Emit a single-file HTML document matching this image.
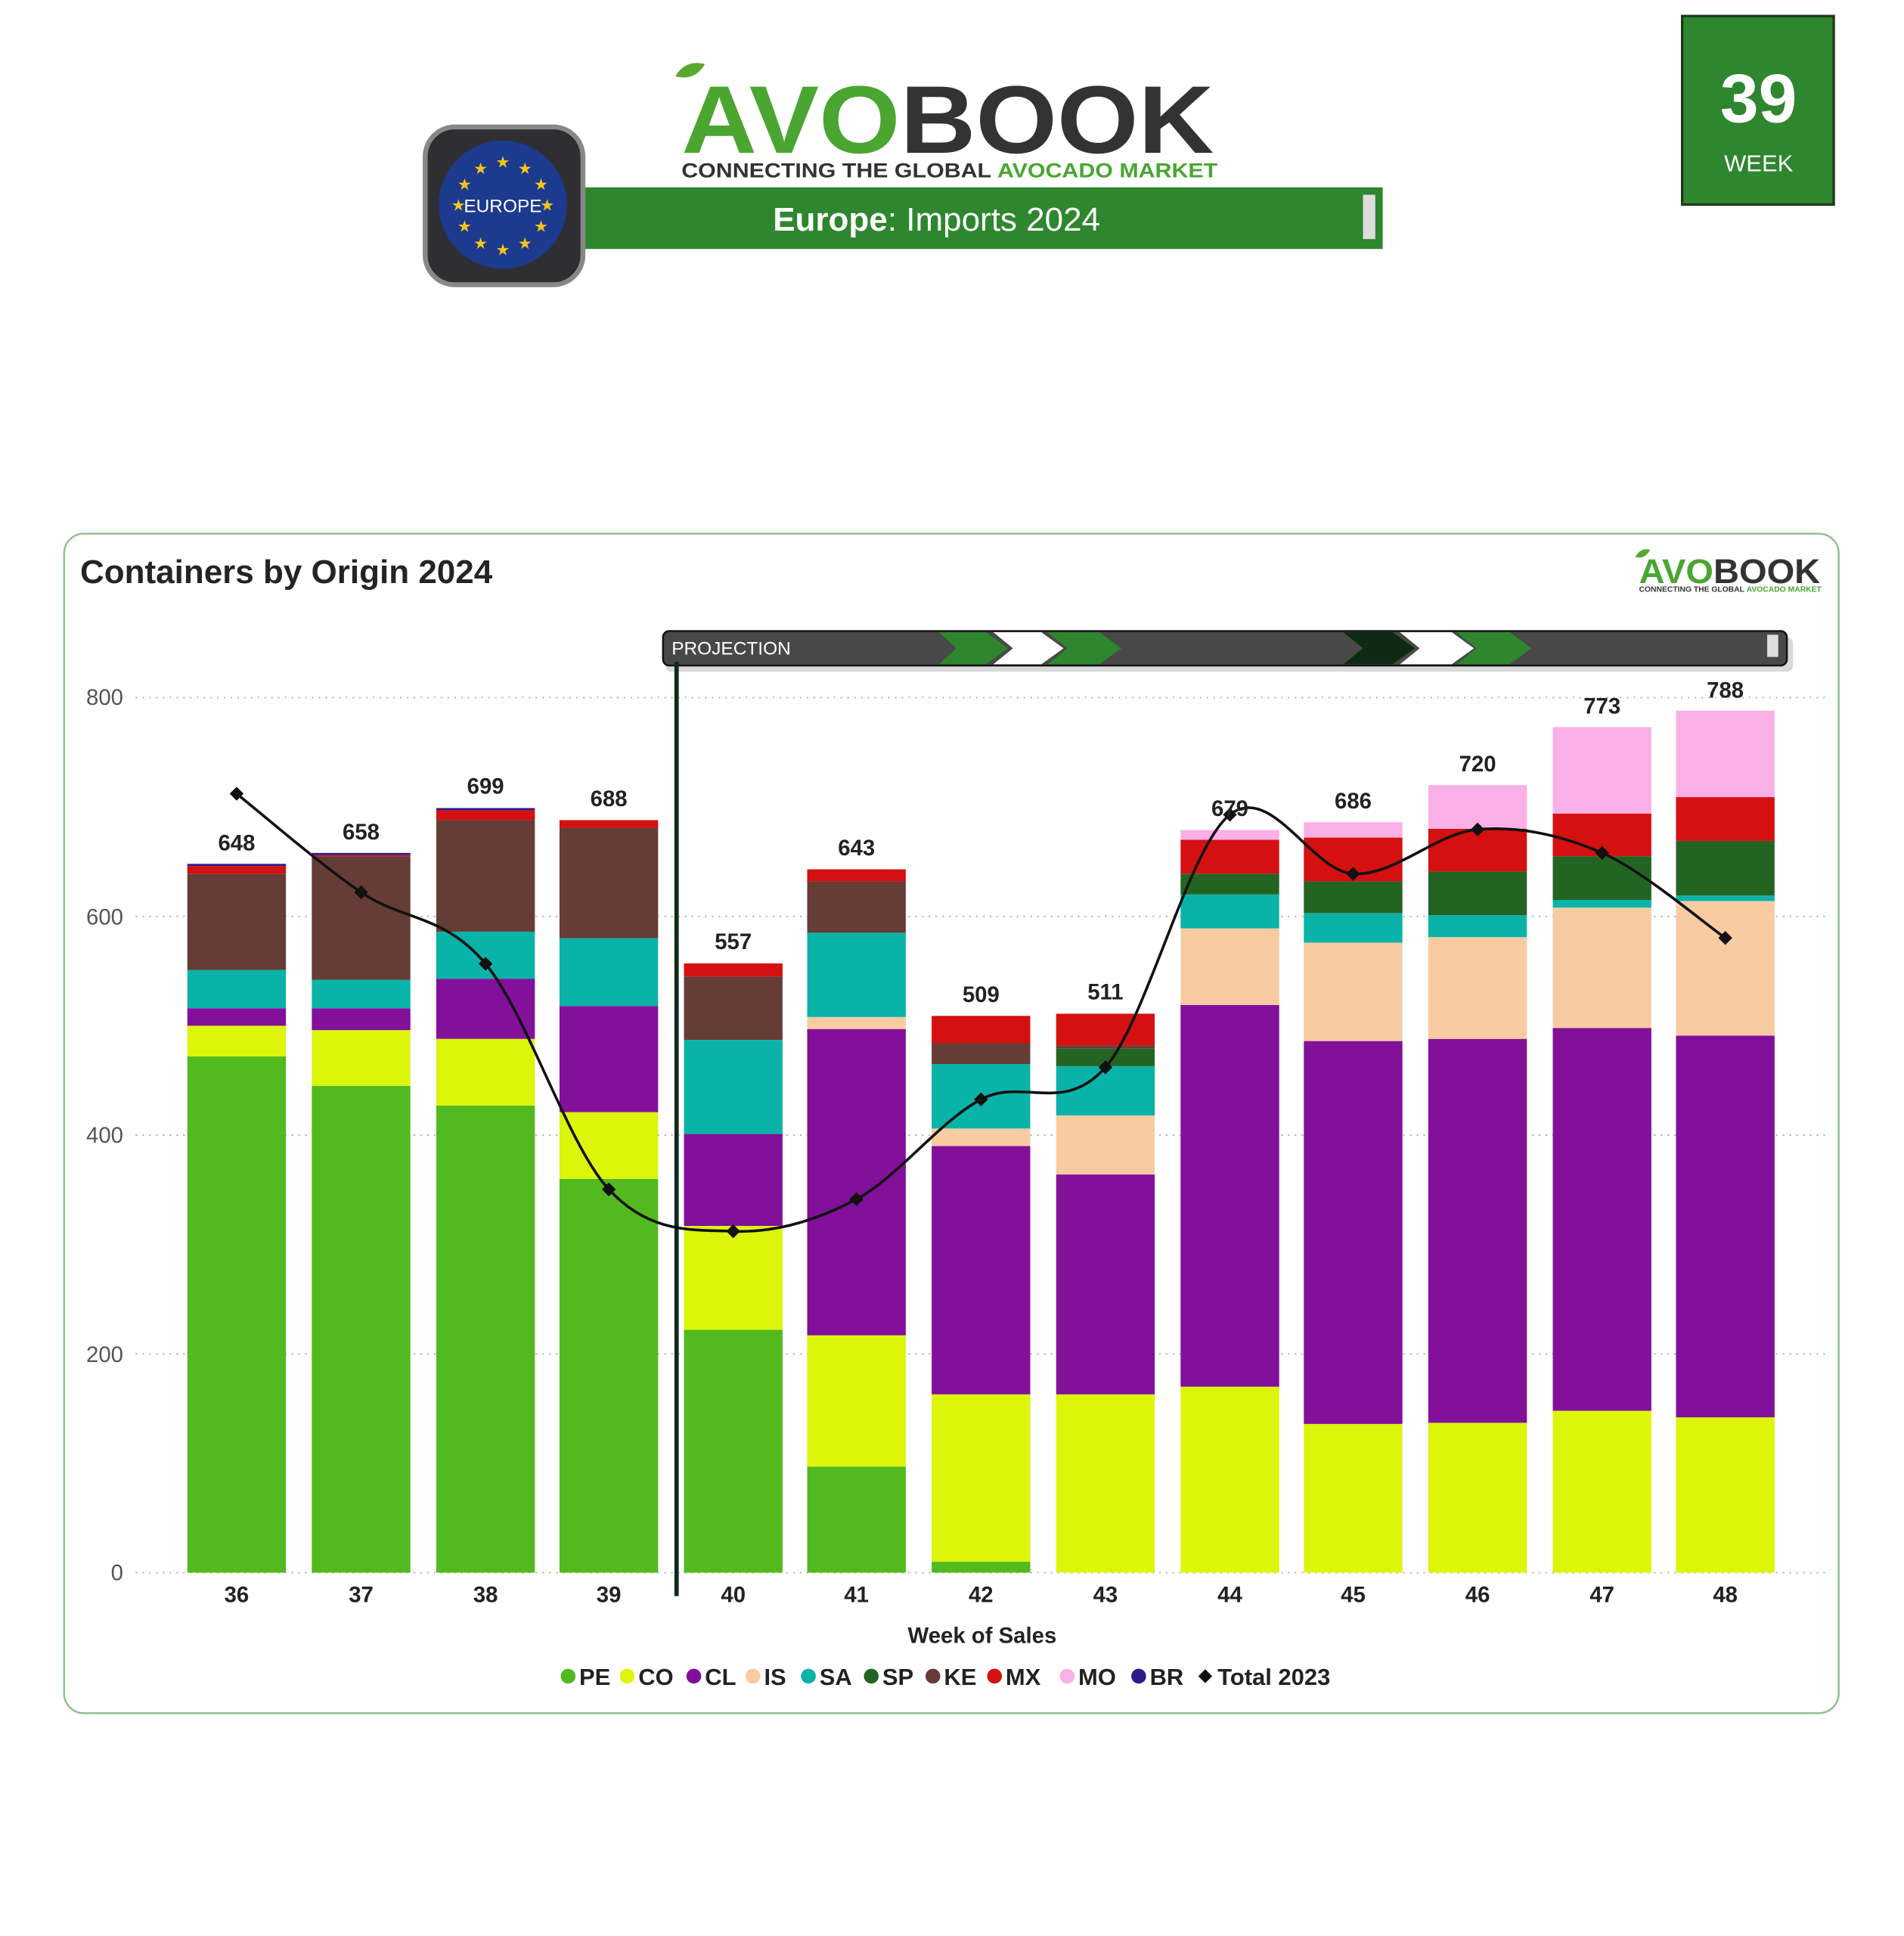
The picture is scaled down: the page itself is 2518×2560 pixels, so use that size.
<!DOCTYPE html><html><head><meta charset="utf-8"><style>
html,body{margin:0;padding:0;background:#fff}
svg{display:block}
text{font-family:"Liberation Sans","DejaVu Sans",sans-serif}
</style></head><body>
<svg id="s" width="2518" height="2560" viewBox="0 0 1545 1570.8" xmlns="http://www.w3.org/2000/svg">
<rect x="0" y="0" width="1545" height="1571" fill="#fff"/>
<path d="M548 62 q8 -14 24 -10 q-8 14 -24 10z" fill="#5aa82e"/>
<text x="553" y="124" font-size="78" font-weight="bold" fill="#4aa630" textLength="432" lengthAdjust="spacingAndGlyphs">AVO<tspan fill="#333">BOOK</tspan></text>
<text x="553" y="144" font-size="16.5" font-weight="bold" fill="#333" textLength="435" lengthAdjust="spacingAndGlyphs">CONNECTING THE GLOBAL <tspan fill="#4aa630">AVOCADO MARKET</tspan></text>
<rect x="470" y="152" width="652" height="50" fill="#2e862e"/>
<rect x="1106" y="158" width="10" height="36" fill="#ddd"/>
<text x="760" y="187" font-size="27" fill="#fff" text-anchor="middle"><tspan font-weight="bold">Europe</tspan>: Imports 2024</text>
<rect x="345" y="103" width="128" height="128" rx="24" fill="#2f2f33" stroke="#888" stroke-width="4"/>
<circle cx="408" cy="166" r="52" fill="#1c3a8e"/>
<g fill="#f5c518" font-size="13" text-anchor="middle">
<text x="408" y="136">★</text><text x="426" y="141">★</text><text x="439" y="154">★</text><text x="439" y="188">★</text><text x="426" y="202">★</text><text x="408" y="207">★</text><text x="390" y="202">★</text><text x="377" y="188">★</text><text x="377" y="154">★</text><text x="390" y="141">★</text><text x="372" y="171">★</text><text x="444" y="171">★</text>
</g>
<text x="408" y="172" font-size="15" fill="#fff" text-anchor="middle">EUROPE</text>
<rect x="1365" y="13" width="123" height="153" fill="#2e862e" stroke="#1a3a1a" stroke-width="2"/>
<text x="1427" y="99" font-size="56" font-weight="bold" fill="#fff" text-anchor="middle">39</text>
<text x="1427" y="139" font-size="19" fill="#fff" text-anchor="middle">WEEK</text>
<rect x="52" y="433" width="1440" height="957" rx="16" fill="#fff" stroke="#8fbf8f" stroke-width="1.5"/>
<text x="65" y="473" font-size="27" font-weight="bold" fill="#252423">Containers by Origin 2024</text>
<path d="M1327 452 q4 -8 12 -6 q-4 8 -12 6z" fill="#5aa82e"/>
<text x="1330" y="473" font-size="28" font-weight="bold" fill="#4aa630" textLength="147" lengthAdjust="spacingAndGlyphs">AVO<tspan fill="#333">BOOK</tspan></text>
<text x="1330" y="480" font-size="6" font-weight="bold" fill="#333" textLength="148" lengthAdjust="spacingAndGlyphs">CONNECTING THE GLOBAL <tspan fill="#4aa630">AVOCADO MARKET</tspan></text>
<g stroke="#bbb" stroke-width="1.2" stroke-dasharray="1.5 4">
<line x1="110" y1="566" x2="1482" y2="566"/><line x1="110" y1="743.5" x2="1482" y2="743.5"/><line x1="110" y1="921" x2="1482" y2="921"/><line x1="110" y1="1098.5" x2="1482" y2="1098.5"/><line x1="110" y1="1276" x2="1482" y2="1276"/>
</g>
<g font-size="18" fill="#555" text-anchor="end">
<text x="100" y="572">800</text><text x="100" y="750">600</text><text x="100" y="927">400</text><text x="100" y="1105">200</text><text x="100" y="1282">0</text>
</g>
<g id="bars"></g>
<rect x="540" y="517" width="915" height="28" rx="5" fill="#000" opacity="0.15"/>
<rect x="538" y="512" width="912" height="28" rx="5" fill="#484848" stroke="#111" stroke-width="1.5"/>
<polygon points="762,513 800,513 818,526 800,539 762,539 776,526" fill="#2e862e"/>
<polygon points="806,513 845,513 863,526 845,539 806,539 822,526" fill="#fff"/>
<polygon points="850,513 892,513 910,526 892,539 850,539 866,526" fill="#2e862e"/>
<polygon points="1090,513 1130,513 1148,526 1130,539 1090,539 1106,526" fill="#0e2a12"/>
<polygon points="1136,513 1178,513 1196,526 1178,539 1136,539 1152,526" fill="#fff"/>
<polygon points="1182,513 1225,513 1243,526 1225,539 1182,539 1198,526" fill="#2e862e"/>
<rect x="1434" y="515" width="9" height="18" fill="#ddd"/>
<text x="545" y="531" font-size="15" fill="#fff">PROJECTION</text>
<line x1="549" y1="537" x2="549" y2="1295" stroke="#0f2a18" stroke-width="3.5"/>
<path id="line" fill="none" stroke="#111" stroke-width="2.2"/>
<g id="dots" fill="#111"></g>
<g font-size="18" font-weight="bold" fill="#222" text-anchor="middle">
<text x="192" y="690">648</text><text x="293" y="681">658</text><text x="394" y="644">699</text><text x="494" y="654">688</text><text x="595" y="770">557</text><text x="695" y="694">643</text><text x="796" y="813">509</text><text x="897" y="811">511</text><text x="998" y="662">679</text><text x="1098" y="656">686</text><text x="1199" y="626">720</text><text x="1300" y="579">773</text><text x="1400" y="566">788</text>
</g>
<g font-size="18" font-weight="bold" fill="#222" text-anchor="middle">
<text x="192" y="1300">36</text><text x="293" y="1300">37</text><text x="394" y="1300">38</text><text x="494" y="1300">39</text><text x="595" y="1300">40</text><text x="695" y="1300">41</text><text x="796" y="1300">42</text><text x="897" y="1300">43</text><text x="998" y="1300">44</text><text x="1098" y="1300">45</text><text x="1199" y="1300">46</text><text x="1300" y="1300">47</text><text x="1400" y="1300">48</text>
<text x="797" y="1333">Week of Sales</text>
</g>
<g font-size="19" font-weight="bold" fill="#222">
<circle cx="461" cy="1360" r="6" fill="#52b91e"/><text x="470" y="1367">PE</text>
<circle cx="509" cy="1360" r="6" fill="#dcf50a"/><text x="518" y="1367">CO</text>
<circle cx="563" cy="1360" r="6" fill="#82109a"/><text x="572" y="1367">CL</text>
<circle cx="611" cy="1360" r="6" fill="#f8cba2"/><text x="620" y="1367">IS</text>
<circle cx="656" cy="1360" r="6" fill="#0ab3a8"/><text x="665" y="1367">SA</text>
<circle cx="707" cy="1360" r="6" fill="#236423"/><text x="716" y="1367">SP</text>
<circle cx="757" cy="1360" r="6" fill="#663c36"/><text x="766" y="1367">KE</text>
<circle cx="807" cy="1360" r="6" fill="#d41010"/><text x="816" y="1367">MX</text>
<circle cx="866" cy="1360" r="6" fill="#f9b0e6"/><text x="875" y="1367">MO</text>
<circle cx="924" cy="1360" r="6" fill="#2a1a8a"/><text x="933" y="1367">BR</text>
<rect x="974" y="1356" width="8" height="8" fill="#111" transform="rotate(45 978 1360)"/><text x="988" y="1367">Total 2023</text>
</g>
</svg>
<script>
var C={PE:"#52b91e",CO:"#dcf50a",CL:"#82109a",IS:"#f8cba2",SA:"#0ab3a8",SP:"#236423",KE:"#663c36",MX:"#d41010",MO:"#f9b0e6",BR:"#2a1a8a"};
var xs=[192,293,394,494,595,695,796,897,998,1098,1199,1300,1400];
var D=[
[["PE",472],["CO",500],["CL",516],["SA",551],["KE",639],["MX",646],["BR",648]],
[["PE",445],["CO",496],["CL",516],["SA",542],["KE",655],["MX",656],["BR",658]],
[["PE",427],["CO",488],["CL",543],["SA",586],["KE",688],["MX",697],["BR",699]],
[["PE",360],["CO",421],["CL",518],["SA",580],["KE",681],["MX",688]],
[["PE",222],["CO",317],["CL",401],["SA",487],["KE",545],["MX",557]],
[["PE",97],["CO",217],["CL",497],["IS",508],["SA",585],["KE",632],["MX",643]],
[["PE",10],["CO",163],["CL",390],["IS",406],["SA",465],["KE",484],["MX",509]],
[["CO",163],["CL",364],["IS",418],["SA",463],["SP",479],["KE",482],["MX",511]],
[["CO",170],["CL",519],["IS",589],["SA",620],["SP",639],["MX",670],["MO",679]],
[["CO",136],["CL",486],["IS",576],["SA",603],["SP",632],["MX",672],["MO",686]],
[["CO",137],["CL",488],["IS",581],["SA",601],["SP",641],["MX",680],["MO",720]],
[["CO",148],["CL",498],["IS",608],["SA",615],["SP",655],["MX",694],["MO",773]],
[["CO",142],["CL",491],["IS",614],["SA",619],["SP",669],["MX",709],["MO",788]]];
var ns="http://www.w3.org/2000/svg",g=document.getElementById("bars");
function Y(v){return 1276-v*0.8875}
D.forEach(function(b,i){var prev=0;b.forEach(function(s){var r=document.createElementNS(ns,"rect");
r.setAttribute("x",xs[i]-40);r.setAttribute("width",80);r.setAttribute("y",Y(s[1]));r.setAttribute("height",Y(prev)-Y(s[1]));r.setAttribute("fill",C[s[0]]);g.appendChild(r);prev=s[1];});});
var P=[[192,644],[293,724],[394,782],[494,965],[595,999],[695,973],[796,892],[897,866],[998,661],[1098,709],[1199,673],[1300,692],[1400,761]];
var d="M"+P[0][0]+" "+P[0][1];
for(var i=0;i<P.length-1;i++){var p0=P[i-1]||P[i],p1=P[i],p2=P[i+1],p3=P[i+2]||p2,t=6;
d+=" C"+(p1[0]+(p2[0]-p0[0])/t)+" "+(p1[1]+(p2[1]-p0[1])/t)+" "+(p2[0]-(p3[0]-p1[0])/t)+" "+(p2[1]-(p3[1]-p1[1])/t)+" "+p2[0]+" "+p2[1];}
document.getElementById("line").setAttribute("d",d);
var dg=document.getElementById("dots");
P.forEach(function(p){var r=document.createElementNS(ns,"rect");r.setAttribute("x",p[0]-4);r.setAttribute("y",p[1]-4);r.setAttribute("width",8);r.setAttribute("height",8);r.setAttribute("transform","rotate(45 "+p[0]+" "+p[1]+")");dg.appendChild(r);});
</script>
</body></html>
